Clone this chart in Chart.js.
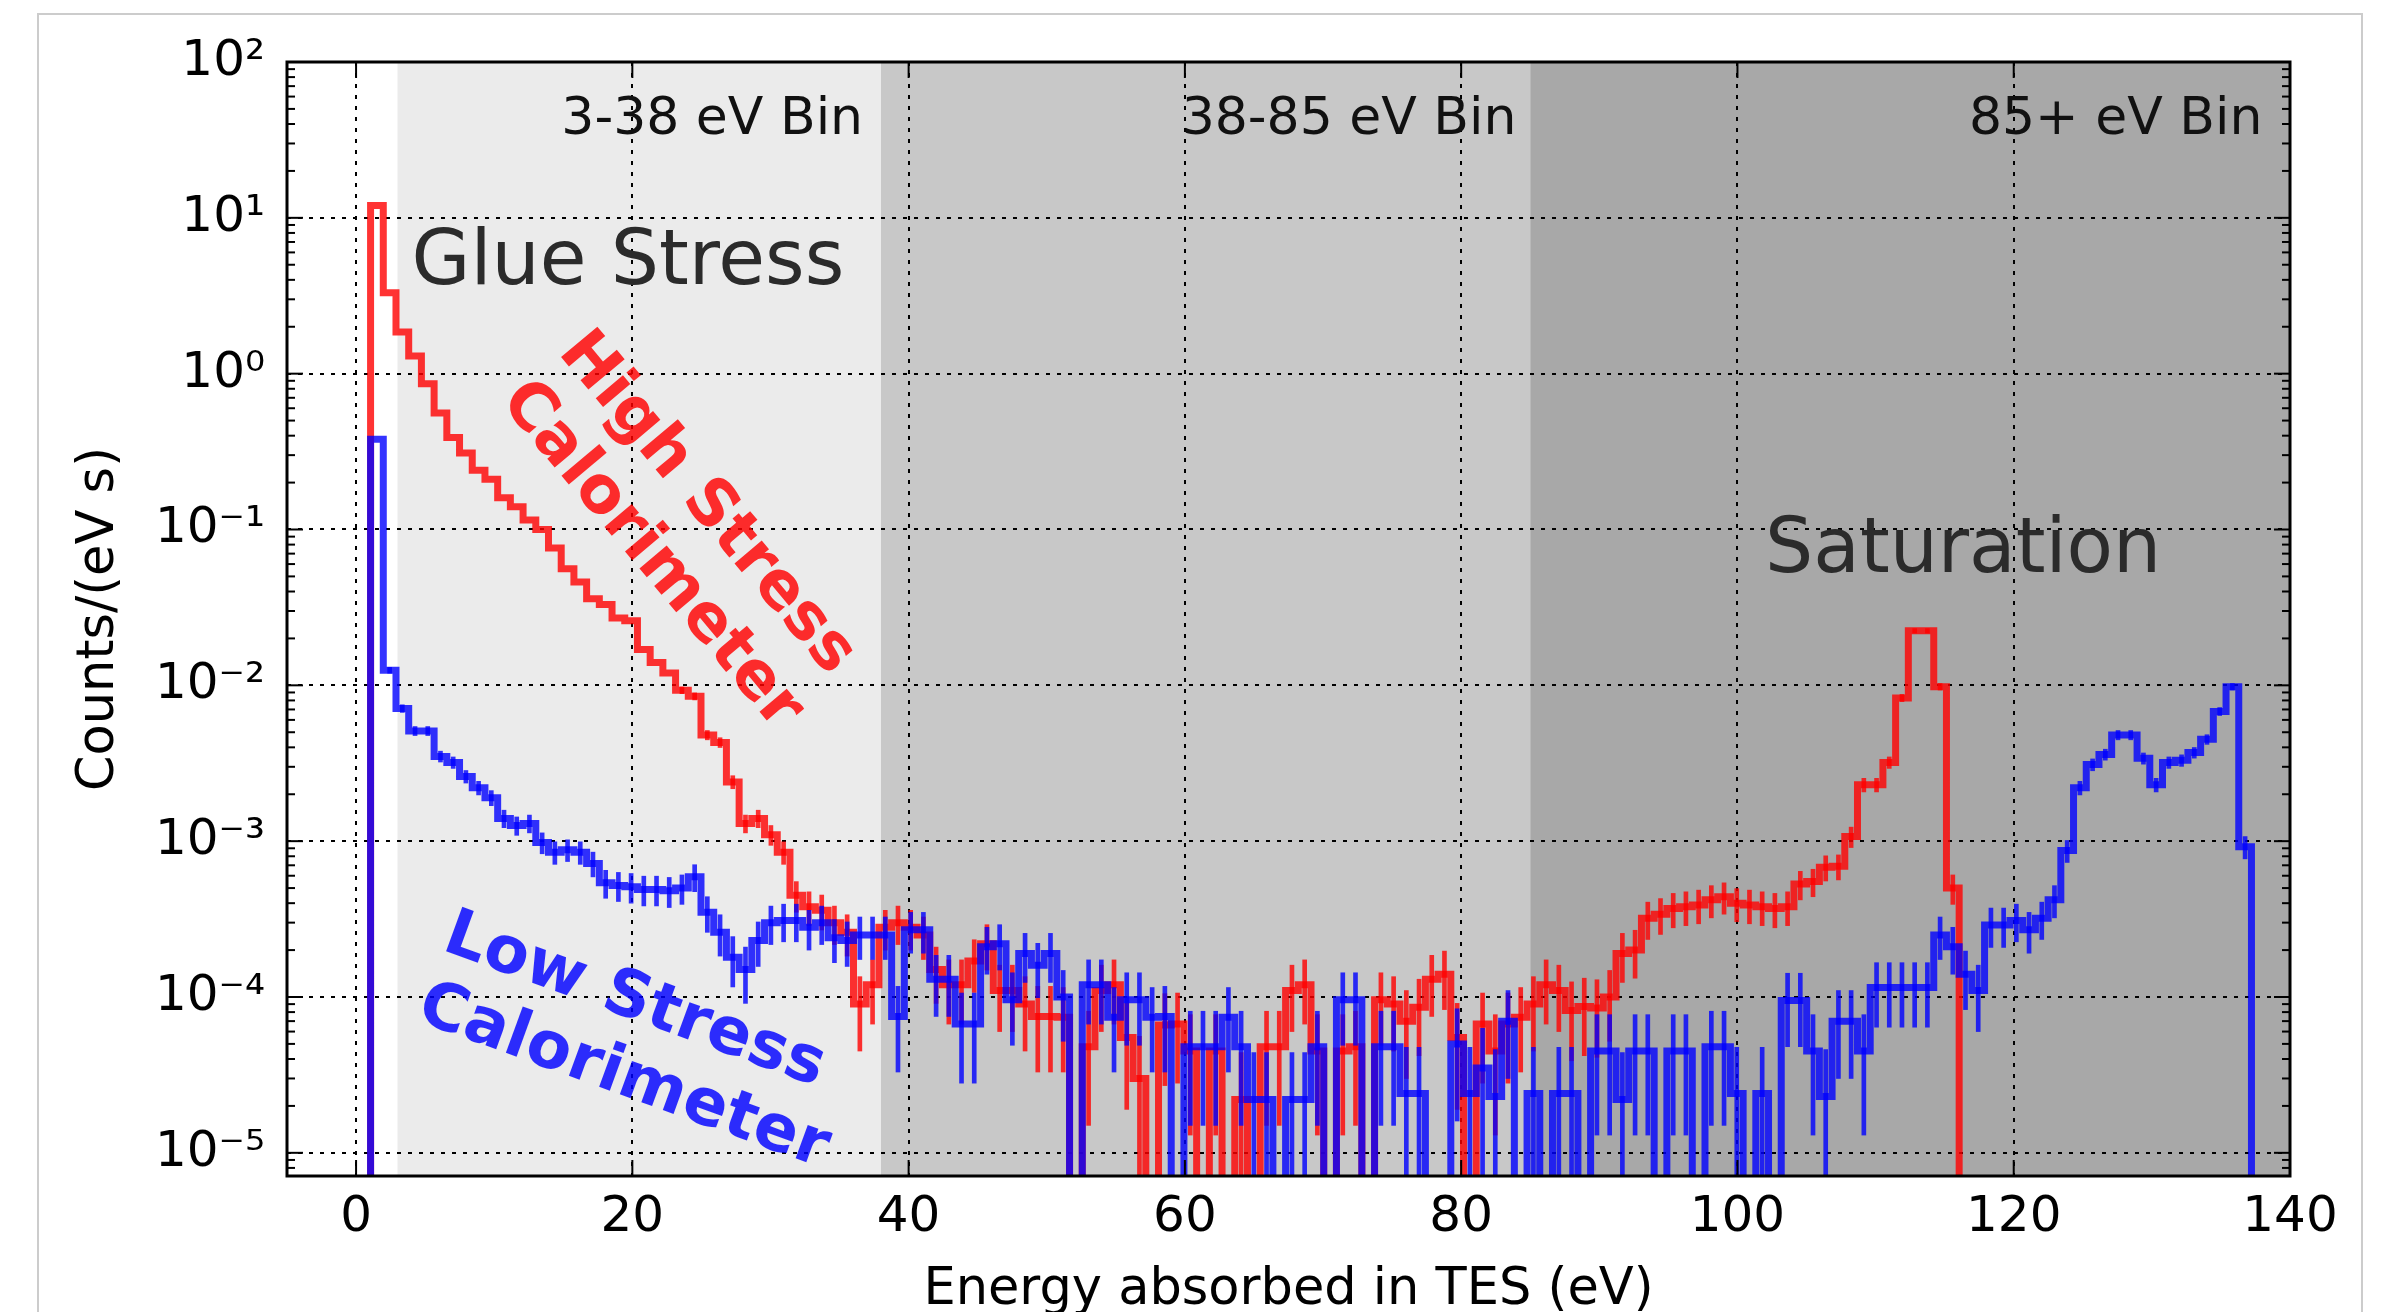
<!DOCTYPE html>
<html>
<head>
<meta charset="utf-8">
<script src="https://cdn.jsdelivr.net/npm/chart.js@4.4.1/dist/chart.umd.min.js"></script>
<style>
html,body{margin:0;padding:0;background:#fff;}
#wrap{position:relative;width:2392px;height:1312px;overflow:hidden;}
</style>
</head>
<body>
<div id="wrap"><canvas id="c" width="2392" height="1312" style="width:2392px;height:1312px"></canvas></div>
<script>
// ---------------- data ----------------
const binStart = 0.13;   // eV, left edge of first bin
const binWidth = 0.92;   // eV

// Counts/(eV s) per bin, High Stress calorimeter (red)
const highStress = [
  0, 12, 3.3, 1.85, 1.3, 0.86, 0.56, 0.39, 0.31, 0.24,
  0.21, 0.16, 0.14, 0.115, 0.10, 0.076, 0.056, 0.046, 0.036, 0.033,
  0.027, 0.026, 0.017, 0.014, 0.012, 0.0093, 0.0085, 0.0048, 0.0043, 0.0024,
  0.0013, 0.0014, 0.0011, 0.00085, 0.00045, 0.00038, 0.00036, 0.00030, 0.00026, 0.00009,
  0.00012, 0.00028, 0.00030, 0.00028, 0.00025, 0.00015, 0.00012, 0.00012, 0.00017, 0.00022,
  0.00011, 0.00011, 0.00009, 0.000075, 0.000075, 0.000074, 0, 0.000048, 0.00011, 0.00012,
  0.000055, 0.00003, 0, 0.000066, 0.000067, 0.000045, 0, 0.000045, 0, 0.000022,
  0, 0.000048, 0.000048, 0.00011, 0.00012, 0.000045, 0, 0.000045, 0.000048, 0,
  0.000096, 0.00009, 0.00007, 0.000086, 0.00013, 0.00014, 0.000055, 0, 0.000067, 0.000045,
  0.000067, 0.000074, 0.00009, 0.00012, 0.00011, 0.000082, 0.000087, 0.000085, 0.0001, 0.00019,
  0.0002, 0.00032, 0.00034, 0.00037, 0.00038, 0.00039, 0.00042, 0.00044, 0.0004, 0.00039,
  0.00038, 0.00037, 0.00038, 0.00053, 0.00055, 0.00068, 0.00069, 0.00107, 0.0023, 0.0023,
  0.0032, 0.0083, 0.0224, 0.0224, 0.0098, 0.0005, 0, 0, 0, 0,
  0, 0, 0, 0, 0, 0, 0, 0, 0, 0,
  0, 0, 0, 0, 0, 0, 0, 0, 0, 0
];

// +/- error bar per bin, High Stress (same units)
const highStressErr = [
  0, 0, 0, 0, 0, 0, 0, 0, 0, 0,
  0, 0, 0, 0, 0, 0, 0, 0, 0, 0,
  0, 0, 0, 0, 0, 0.00046, 0.00044, 0.00033, 0.00031, 0.00023,
  0.00017, 0.00018, 0.00016, 0.00014, 0.0001, 0.000093, 0.000091, 0.000083, 0.000077, 0.000045,
  0.000053, 0.00008, 0.000083, 0.00008, 0.000076, 0.000059, 0.000053, 0.000053, 0.000063, 0.000071,
  0.00005, 0.00005, 0.000045, 0.000042, 0.000042, 0.000041, 0, 0.000033, 0.00005, 0.000053,
  0.000036, 0.000026, 0, 0.000039, 0.000039, 0.000032, 0, 0.000032, 0, 0.000022,
  0, 0.000033, 0.000033, 0.00005, 0.000053, 0.000032, 0, 0.000032, 0.000033, 0,
  0.000047, 0.000045, 0.00004, 0.000044, 0.000055, 0.000057, 0.000036, 0, 0.000039, 0.000032,
  0.000039, 0.000041, 0.000045, 0.000053, 0.00005, 0.000043, 0.000045, 0.000044, 0.000048, 0.000066,
  0.000068, 0.000086, 0.000088, 0.000092, 0.000093, 0.000095, 0.000098, 0.0001, 0.000096, 0.000095,
  0.000093, 0.000092, 0.000093, 0.00011, 0.00011, 0.000125, 0.000126, 0.00016, 0.00023, 0.00023,
  0.00027, 0.00044, 0.00072, 0.00072, 0.00047, 0.000107, 0, 0, 0, 0,
  0, 0, 0, 0, 0, 0, 0, 0, 0, 0,
  0, 0, 0, 0, 0, 0, 0, 0, 0, 0
];

// Counts/(eV s) per bin, Low Stress calorimeter (blue)
const lowStress = [
  0, 0.38, 0.0125, 0.0071, 0.0051, 0.0051, 0.0035, 0.0032, 0.0026, 0.0022,
  0.0019, 0.0014, 0.00126, 0.0013, 0.00098, 0.00085, 0.00088, 0.00085, 0.00072, 0.00054,
  0.00052, 0.00051, 0.00049, 0.00049, 0.00048, 0.0005, 0.00059, 0.00035, 0.00026, 0.00018,
  0.00015, 0.00023, 0.0003, 0.00031, 0.00031, 0.00028, 0.0003, 0.00024, 0.00023, 0.00025,
  0.00025, 0.00025, 0.000075, 0.00027, 0.00027, 0.00013, 0.00013, 0.000067, 0.000067, 0.00021,
  0.00022, 0.000096, 0.00019, 0.00016, 0.00019, 0.0001, 0, 0.00012, 0.00012, 0.000074,
  0.000096, 0.000096, 0.000074, 0.000075, 0, 0.000048, 0.000048, 0.000048, 0.000074, 0.000048,
  0.000022, 0.000022, 0, 0.000022, 0.000022, 0.000048, 0, 0.000096, 0.000096, 0,
  0.000048, 0.000048, 0.000024, 0.000024, 0, 0, 0.00005, 0.000024, 0.000035, 0.000023,
  0.00007, 0, 0.000024, 0, 0.000024, 0.000024, 0, 0.000045, 0.000045, 0.000022,
  0.000045, 0.000045, 0, 0.000045, 0.000045, 0, 0.000048, 0.000048, 0.000024, 0,
  0.000024, 0, 0.000095, 0.000095, 0.000045, 0.000023, 0.00007, 0.00007, 0.000045, 0.000115,
  0.000115, 0.000115, 0.000115, 0.000115, 0.00025, 0.00021, 0.00014, 0.00011, 0.00029, 0.00029,
  0.00031, 0.00027, 0.00032, 0.00042, 0.00087, 0.0022, 0.0031, 0.0036, 0.0048, 0.0048,
  0.0034, 0.0023, 0.0032, 0.0033, 0.0037, 0.0045, 0.0068, 0.0098, 0.00092, 0
];

// +/- error bar per bin, Low Stress (same units)
const lowStressErr = [
  0, 0, 0.00054, 0.0004, 0.00034, 0.00034, 0.00028, 0.00027, 0.00024, 0.00022,
  0.00021, 0.00018, 0.00017, 0.00017, 0.00015, 0.00014, 0.00014, 0.00014, 0.00013, 0.00011,
  0.00011, 0.00011, 0.000106, 0.000106, 0.000105, 0.000107, 0.000116, 0.00009, 0.000077, 0.000064,
  0.000059, 0.000073, 0.000083, 0.000084, 0.000084, 0.00008, 0.000083, 0.000074, 0.000073, 0.000076,
  0.000076, 0.000076, 0.000042, 0.000079, 0.000079, 0.000055, 0.000055, 0.000039, 0.000039, 0.00007,
  0.000071, 0.000047, 0.000066, 0.000061, 0.000066, 0.000048, 0, 0.000053, 0.000053, 0.000041,
  0.000047, 0.000047, 0.000041, 0.000042, 0, 0.000033, 0.000033, 0.000033, 0.000041, 0.000033,
  0.000022, 0.000022, 0, 0.000022, 0.000022, 0.000033, 0, 0.000047, 0.000047, 0,
  0.000033, 0.000033, 0.0000235, 0.0000235, 0, 0, 0.000034, 0.0000235, 0.000028, 0.000023,
  0.00004, 0, 0.0000235, 0, 0.0000235, 0.0000235, 0, 0.000032, 0.000032, 0.000022,
  0.000032, 0.000032, 0, 0.000032, 0.000032, 0, 0.000033, 0.000033, 0.0000235, 0,
  0.0000235, 0, 0.000047, 0.000047, 0.000032, 0.000023, 0.00004, 0.00004, 0.000032, 0.000051,
  0.000051, 0.000051, 0.000051, 0.000051, 0.000076, 0.00007, 0.000057, 0.00005, 0.000082, 0.000082,
  0.000084, 0.000079, 0.000086, 0.000098, 0.00014, 0.00022, 0.00027, 0.00029, 0.00033, 0.00033,
  0.00028, 0.00023, 0.00027, 0.00028, 0.00029, 0.00032, 0.0004, 0.00047, 0.00015, 0
];

const xTicks = [0, 20, 40, 60, 80, 100, 120, 140];
const yTicks = [1e-5, 1e-4, 1e-3, 1e-2, 1e-1, 1, 10, 100];
const bandFrom  = [3, 38, 85];
const bandTo    = [38, 85, 140];
const bandNames = ['3-38 eV Bin', '38-85 eV Bin', '85+ eV Bin'];

// ---------------- styling / layout ----------------
const FONT = "'DejaVu Sans', 'Liberation Sans', sans-serif";
const bandColors = ['#ebebeb', '#c8c8c8', '#a8a8a8'];
const RED = 'rgba(255,0,0,0.8)';
const BLUE = 'rgba(0,0,255,0.8)';
const ZERO_FLOOR = 1e-9; // empty bins / lower error limits <= 0 are drawn off the bottom of the log axis

const notes = [
  {lines:[bandNames[0]], x:36.7, y:34.7, size:52, weight:'normal', color:'#111', align:'right'},
  {lines:[bandNames[1]], x:84.0, y:34.7, size:52, weight:'normal', color:'#111', align:'right'},
  {lines:[bandNames[2]], x:138.0, y:34.7, size:52, weight:'normal', color:'#111', align:'right'},
  {lines:['Glue Stress'], x:4.02, y:3.78, size:76, weight:'normal', color:'#2b2b2b', align:'left'},
  {lines:['Saturation'], x:102.0, y:0.053, size:76, weight:'normal', color:'#2b2b2b', align:'left'},
  {lines:['High Stress','Calorimeter'], x:13.4, y:1.12, size:65, weight:'bold', color:'rgba(255,0,0,0.82)', align:'left', rot:50, lead:76},
  {lines:['Low Stress','Calorimeter'], x:5.6, y:1.52e-4, size:65, weight:'bold', color:'rgba(0,0,255,0.82)', align:'left', rot:20, lead:75}
];

const sup = {'-':'\u207B','0':'\u2070','1':'\u00B9','2':'\u00B2','3':'\u00B3','4':'\u2074','5':'\u2075','6':'\u2076','7':'\u2077','8':'\u2078','9':'\u2079'};
function powLabel(v){
  const e = Math.round(Math.log10(v));
  return '10' + String(e).split('').map(c => sup[c]).join('');
}

const binEdges = highStress.map((_, i) => binStart + i * binWidth);
const binCenters = binEdges.map(e => e + binWidth / 2);
const toPoints = arr => arr.map((v, i) => ({x: binEdges[i], y: v > 0 ? v : ZERO_FLOOR}));
const toErrBars = (vals, errs) => vals
  .map((v, i) => ({x: binCenters[i], y: [v - errs[i] > 0 ? v - errs[i] : ZERO_FLOOR, v + errs[i]], e: errs[i]}))
  .filter(p => p.e > 0)
  .map(p => ({x: p.x, y: p.y}));

const decor = {
  id: 'decor',
  beforeDraw(chart){
    const {ctx, chartArea:a, scales:{x}} = chart;
    ctx.save();
    ctx.fillStyle = '#fff';
    ctx.fillRect(0, 0, chart.width, chart.height);
    ctx.strokeStyle = '#cccccc';
    ctx.lineWidth = 2;
    ctx.beginPath();
    ctx.moveTo(38, 1312); ctx.lineTo(38, 14); ctx.lineTo(2362, 14); ctx.lineTo(2362, 1312);
    ctx.stroke();
    bandFrom.forEach((f, i) => {
      const x0 = Math.max(a.left, x.getPixelForValue(f));
      const x1 = Math.min(a.right, x.getPixelForValue(bandTo[i]));
      ctx.fillStyle = bandColors[i];
      ctx.fillRect(x0, a.top, x1 - x0, a.bottom - a.top);
    });
    ctx.restore();
  },
  afterDatasetsDraw(chart){
    const {ctx, chartArea:a, scales:{x, y}} = chart;
    ctx.save();
    ctx.strokeStyle = '#000';
    ctx.lineWidth = 2;
    const seg = (x0,y0,x1,y1) => { ctx.beginPath(); ctx.moveTo(x0,y0); ctx.lineTo(x1,y1); ctx.stroke(); };
    xTicks.forEach(v => {
      const px = x.getPixelForValue(v);
      seg(px, a.bottom, px, a.bottom - 16);
      seg(px, a.top, px, a.top + 16);
    });
    for (let e = -6; e <= 2; e++) {
      for (let m = 1; m <= 9; m++) {
        const v = m * Math.pow(10, e);
        if (v < y.min || v > y.max) continue;
        const py = y.getPixelForValue(v);
        const L = m === 1 ? 16 : 8;
        seg(a.left, py, a.left + L, py);
        seg(a.right, py, a.right - L, py);
      }
    }
    ctx.lineWidth = 3;
    ctx.strokeRect(a.left, a.top, a.right - a.left, a.bottom - a.top);

    notes.forEach(n => {
      const px = x.getPixelForValue(n.x), py = y.getPixelForValue(n.y);
      ctx.save();
      ctx.translate(px, py);
      if (n.rot) ctx.rotate(n.rot * Math.PI / 180);
      ctx.font = n.weight + ' ' + n.size + 'px ' + FONT;
      ctx.fillStyle = n.color;
      ctx.textAlign = n.align;
      if (n.lines.length > 1) {
        ctx.textBaseline = 'middle';
        n.lines.forEach((t, j) => ctx.fillText(t, 0, (j - (n.lines.length - 1) / 2) * n.lead));
      } else {
        ctx.textBaseline = 'alphabetic';
        ctx.fillText(n.lines[0], 0, 0);
      }
      ctx.restore();
    });
    ctx.restore();
  }
};

Chart.defaults.font.family = FONT;

new Chart(document.getElementById('c'), {
  type: 'line',
  data: {
    datasets: [
      {label: 'Low Stress Calorimeter', data: toPoints(lowStress), borderColor: BLUE, borderWidth: 7,
       stepped: 'before', pointRadius: 0, fill: false, order: 1},
      {type: 'bar', label: 'Low Stress errors', data: toErrBars(lowStress, lowStressErr),
       backgroundColor: BLUE, borderWidth: 0, barThickness: 4, grouped: false, order: 1},
      {label: 'High Stress Calorimeter', data: toPoints(highStress), borderColor: RED, borderWidth: 7,
       stepped: 'before', pointRadius: 0, fill: false, order: 2},
      {type: 'bar', label: 'High Stress errors', data: toErrBars(highStress, highStressErr),
       backgroundColor: RED, borderWidth: 0, barThickness: 4, grouped: false, order: 2}
    ]
  },
  options: {
    responsive: false,
    animation: false,
    devicePixelRatio: 1,
    layout: {padding: {left: 0, top: 62, right: 102, bottom: 0}},
    plugins: {legend: {display: false}, tooltip: {enabled: false}},
    scales: {
      x: {
        type: 'linear', min: -5, max: 140, offset: false,
        afterBuildTicks: s => { s.ticks = xTicks.map(v => ({value: v})); },
        afterFit: s => { s.height = 136; },
        grid: {color: '#000', lineWidth: 2, drawTicks: false, offset: false},
        border: {display: false, dash: [4, 7]},
        ticks: {font: {size: 50}, color: '#000', padding: 12, autoSkip: false, maxRotation: 0},
        title: {display: true, text: 'Energy absorbed in TES (eV)', font: {size: 51, lineHeight: 0.82}, color: '#000', padding: {top: 0, bottom: 0}}
      },
      y: {
        type: 'logarithmic', min: 7.1e-6, max: 100,
        afterBuildTicks: s => { s.ticks = yTicks.map(v => ({value: v})); },
        afterFit: s => { s.width = 287; },
        grid: {color: '#000', lineWidth: 2, drawTicks: false},
        border: {display: false, dash: [4, 7]},
        ticks: {font: {size: 50}, color: '#000', padding: 22, autoSkip: false, callback: v => powLabel(v)},
        title: {display: true, text: 'Counts/(eV s)', font: {size: 51}, color: '#000', padding: {top: 69, bottom: 0}}
      }
    }
  },
  plugins: [decor]
});
</script>
</body>
</html>
